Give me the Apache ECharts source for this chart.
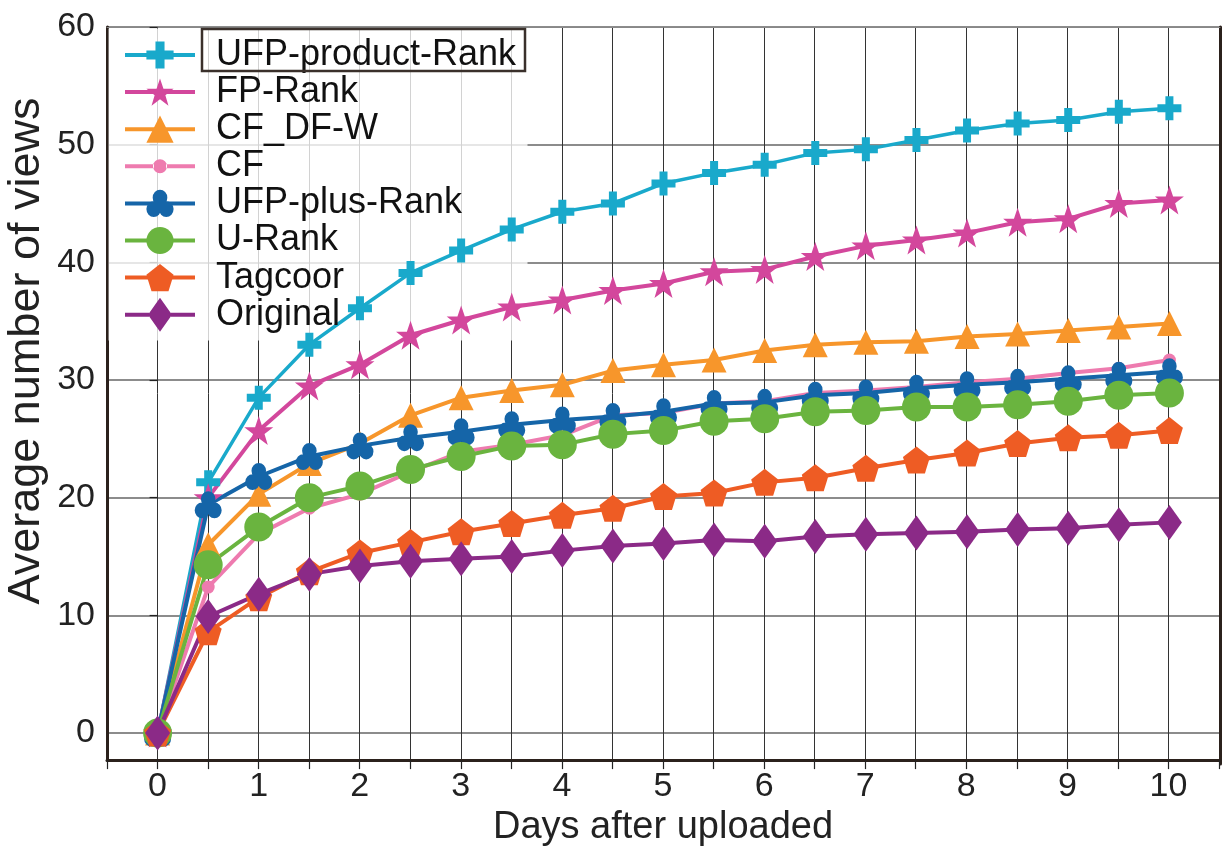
<!DOCTYPE html>
<html>
<head>
<meta charset="utf-8">
<script src="https://cdn.jsdelivr.net/npm/echarts@6/dist/echarts.min.js"></script>
<style>
html,body{margin:0;padding:0;background:#fff;}
#chart{width:1222px;height:852px;}
</style>
</head>
<body>
<div id="chart"></div>
<script>
// ---- data ----
const days = [0,0.5,1,1.5,2,2.5,3,3.5,4,4.5,5,5.5,6,6.5,7,7.5,8,8.5,9,9.5,10];
const seriesNames = ['UFP-product-Rank','FP-Rank','CF_DF-W','CF','UFP-plus-Rank','U-Rank','Tagcoor','Original'];
const ufpProduct = [0,21.3,28.5,33.0,36.1,39.1,41.0,42.8,44.3,45.0,46.7,47.6,48.3,49.3,49.6,50.4,51.2,51.8,52.1,52.8,53.1];
const fpRank     = [0,20.0,25.7,29.5,31.3,33.8,35.1,36.2,36.8,37.6,38.2,39.2,39.4,40.5,41.4,41.9,42.5,43.4,43.7,45.0,45.3];
const cfDfW      = [0,16.0,20.3,22.9,24.6,27.0,28.5,29.1,29.6,30.8,31.3,31.7,32.5,33.0,33.2,33.3,33.7,33.9,34.2,34.5,34.8];
const cf         = [0,12.4,16.9,19.1,20.3,22.2,23.9,24.5,25.3,27.0,27.2,28.0,28.2,28.9,29.1,29.4,29.8,30.1,30.6,31.0,31.7];
const ufpPlus    = [0,19.4,21.8,23.5,24.4,25.1,25.6,26.2,26.6,26.9,27.3,28.0,28.1,28.7,28.9,29.3,29.6,29.8,30.1,30.4,30.7];
const uRank      = [0,14.3,17.5,20.0,21.0,22.4,23.5,24.4,24.5,25.4,25.7,26.5,26.7,27.3,27.4,27.7,27.7,27.9,28.2,28.7,28.9];
const tagcoor    = [0,8.6,11.5,13.7,15.3,16.2,17.1,17.8,18.5,19.1,20.1,20.4,21.3,21.7,22.5,23.2,23.8,24.6,25.1,25.3,25.7];
const original   = [0,9.9,11.8,13.5,14.2,14.6,14.8,15.0,15.5,15.9,16.1,16.4,16.3,16.7,16.9,17.0,17.1,17.3,17.4,17.7,17.9];
const yTicks = [0,10,20,30,40,50,60];

const FONT = '"Liberation Sans", Arial, sans-serif';
const colors = ['#19A9CB','#D3479C','#F7962B','#EE7BAF','#1565A8','#6AB43F','#EE5C24','#8B2A87'];
const symbols = [
  'path://M8,0 H16 V8 H24 V16 H16 V24 H8 V16 H0 V8 H8 Z',
  'path://M12,0 L14.9,8.3 L23.4,8.3 L16.5,13.4 L19.1,21.8 L12,16.7 L4.9,21.8 L7.5,13.4 L0.6,8.3 L9.1,8.3 Z',
  'triangle',
  'circle',
  'path://M5,7 a7,7 0 1,0 14,0 a7,7 0 1,0 -14,0 Z M-1,17 a7,7 0 1,0 14,0 a7,7 0 1,0 -14,0 Z M11,17 a7,7 0 1,0 14,0 a7,7 0 1,0 -14,0 Z',
  'circle',
  'path://M12,0 L24,9 L19.5,23 L4.5,23 L0,9 Z',
  'diamond'
];
const sizes = [24, 29, 25, 13, 27, 29, 27, [25,35]];
const widths = [3.5, 4, 4, 4, 4, 4, 4, 4];
const allValues = [ufpProduct, fpRank, cfDfW, cf, ufpPlus, uRank, tagcoor, original];

// custom legend icons (line sample + marker) for the items whose marker differs from the default size
const legendIcons = {
  'CF': 'path://M35,0 L35,0 M35,34 L35,34 M0,15 H29 V19 H0 Z M41,15 H70 V19 H41 Z M28,17 a7,7 0 1,0 14,0 a7,7 0 1,0 -14,0 Z',
  'Original': 'path://M0,15 H24 V19 H0 Z M46,15 H70 V19 H46 Z M35,0 L47,17 L35,34 L23,17 Z'
};

const chart = echarts.init(document.getElementById('chart'), null, {renderer:'canvas'});

const series = seriesNames.map((name, k) => ({
  name: name,
  type: 'line',
  xAxisIndex: 2,
  yAxisIndex: 2,
  data: days.map((d, i) => [d, allValues[k][i]]),
  symbol: symbols[k],
  symbolSize: sizes[k],
  symbolKeepAspect: false,
  showAllSymbol: true,
  color: colors[k],
  lineStyle: {width: widths[k], color: colors[k]},
  itemStyle: {color: colors[k]},
  clip: false,
  z: 2
}));

const legendData = seriesNames.map(n => legendIcons[n] ? {name: n, icon: legendIcons[n]} : {name: n});

const option = {
  animation: false,
  backgroundColor: '#fff',
  grid: [
    {left: 107, right: 2, top: 27, bottom: 88},
    {left: 107, right: 2, top: 27, bottom: 88},
    {left: 107, right: 2, top: 27, bottom: 119}
  ],
  xAxis: [
    { // frame bottom axis with vertical grid lines
      gridIndex: 0, type: 'value', min: -0.5, max: 10.5, interval: 0.5,
      position: 'bottom',
      axisLine: {show: true, onZero: false, lineStyle: {color: '#2b211c', width: 3}},
      axisTick: {show: true, inside: false, length: 9, lineStyle: {color: '#222', width: 1.2}},
      axisLabel: {
        margin: 10, fontSize: 34, color: '#222', fontFamily: FONT,
        formatter: v => (Math.abs(v - Math.round(v)) < 1e-9 && v >= 0 && v <= 10) ? String(Math.round(v)) : ''
      },
      splitLine: {show: true, lineStyle: {color: '#333', width: 1}},
      name: 'Days after uploaded', nameLocation: 'middle', nameGap: 46,
      nameTextStyle: {fontSize: 38, color: '#222', fontFamily: FONT}
    },
    { // frame top edge
      gridIndex: 1, type: 'value', min: -0.5, max: 10.5, position: 'top',
      axisLine: {show: true, onZero: false, lineStyle: {color: '#888', width: 1}},
      axisTick: {show: false}, axisLabel: {show: false}, splitLine: {show: false}
    },
    { // data x axis
      gridIndex: 2, type: 'value', min: -0.5, max: 10.5, show: false,
      splitLine: {show: false}
    }
  ],
  yAxis: [
    {
      gridIndex: 0, type: 'value', min: 0, max: 1, position: 'left',
      axisLine: {show: true, onZero: false, lineStyle: {color: '#2b211c', width: 3}},
      axisTick: {show: false}, axisLabel: {show: false}, splitLine: {show: false}
    },
    {
      gridIndex: 1, type: 'value', min: 0, max: 1, position: 'right',
      axisLine: {show: true, onZero: false, lineStyle: {color: '#2b211c', width: 3}},
      axisTick: {show: false}, axisLabel: {show: false}, splitLine: {show: false}
    },
    {
      gridIndex: 2, type: 'value', min: yTicks[0], max: yTicks[yTicks.length-1], interval: 10,
      position: 'left',
      axisLine: {show: false},
      axisTick: {show: true, inside: false, length: 8, lineStyle: {color: '#222', width: 1.2}},
      axisLabel: {margin: 12, fontSize: 34, color: '#222', fontFamily: FONT},
      splitLine: {show: true, lineStyle: {color: '#666', width: 1.5}}
    }
  ],
  legend: {
    orient: 'vertical',
    left: 118, top: 32,
    itemWidth: 70, itemHeight: 34,
    itemGap: 1.1,
    data: legendData,
    selectedMode: false,
    lineStyle: {width: 4},
    textStyle: {fontSize: 36, color: '#111', fontFamily: FONT, lineHeight: 34, padding: [0,0,0,16]},
    z: 5
  },
  graphic: [
    {
      type: 'rect', z: 1, silent: true,
      shape: {x: 108.5, y: 28.5, width: 419, height: 312},
      style: {fill: 'rgba(255,255,255,0.78)'}
    },
    {
      type: 'rect', z: 10, silent: true,
      shape: {x: 202, y: 29, width: 323, height: 42},
      style: {fill: 'none', stroke: '#3a302b', lineWidth: 2.5}
    },
    {
      type: 'text', z: 10, silent: true,
      x: 27, y: 351, rotation: Math.PI / 2,
      style: {text: 'Average number of views', font: '45px ' + FONT, fill: '#222', align: 'center', verticalAlign: 'middle'}
    }
  ],
  series: series
};
chart.setOption(option);
</script>
</body>
</html>
